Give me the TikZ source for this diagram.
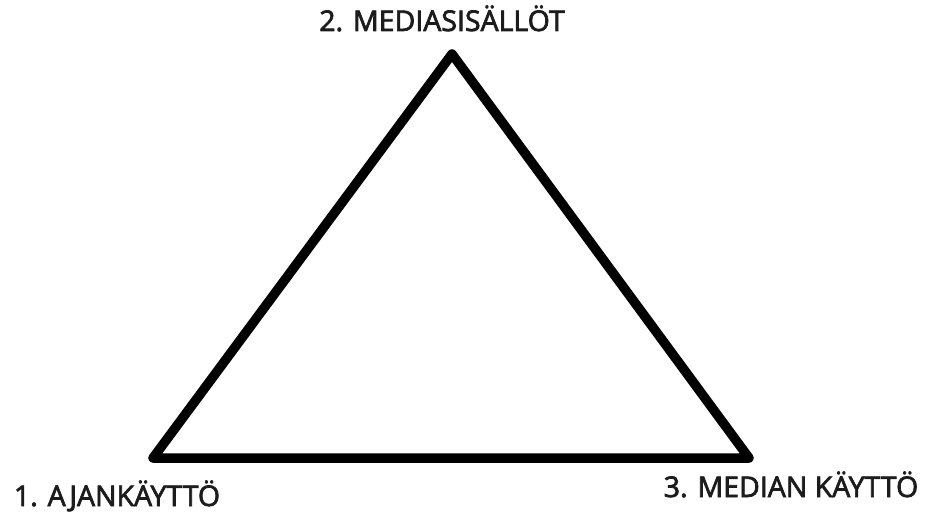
\documentclass[tikz,border=0pt]{standalone}
\usepackage{fontspec}
\setmainfont{Open Sans}[FakeBold=2.5]
\definecolor{txt}{HTML}{1C1C1C}
\begin{document}
\begin{tikzpicture}[x=1pt,y=-1pt,
  lbl/.style={font=\fontsize{28.5}{32}\selectfont, text=txt, inner sep=0pt, anchor=base},
  edge/.style={line width=9.5pt, line join=round, line cap=round}]
\useasboundingbox (0,0) rectangle (930,513);
\coordinate (A) at (153,458);
\coordinate (B) at (452,54);
\coordinate (C) at (749,458);
\draw[edge] (A) -- (B) -- (C) -- cycle;
\node[lbl] (lB) at (442,31) {2. MEDIASISÄLLÖT};
\node[lbl] (lA) at (117,506) {1. AJANKÄYTTÖ};
\node[lbl] (lC) at (791,497) {3. MEDIAN KÄYTTÖ};
\end{tikzpicture}
\end{document}
